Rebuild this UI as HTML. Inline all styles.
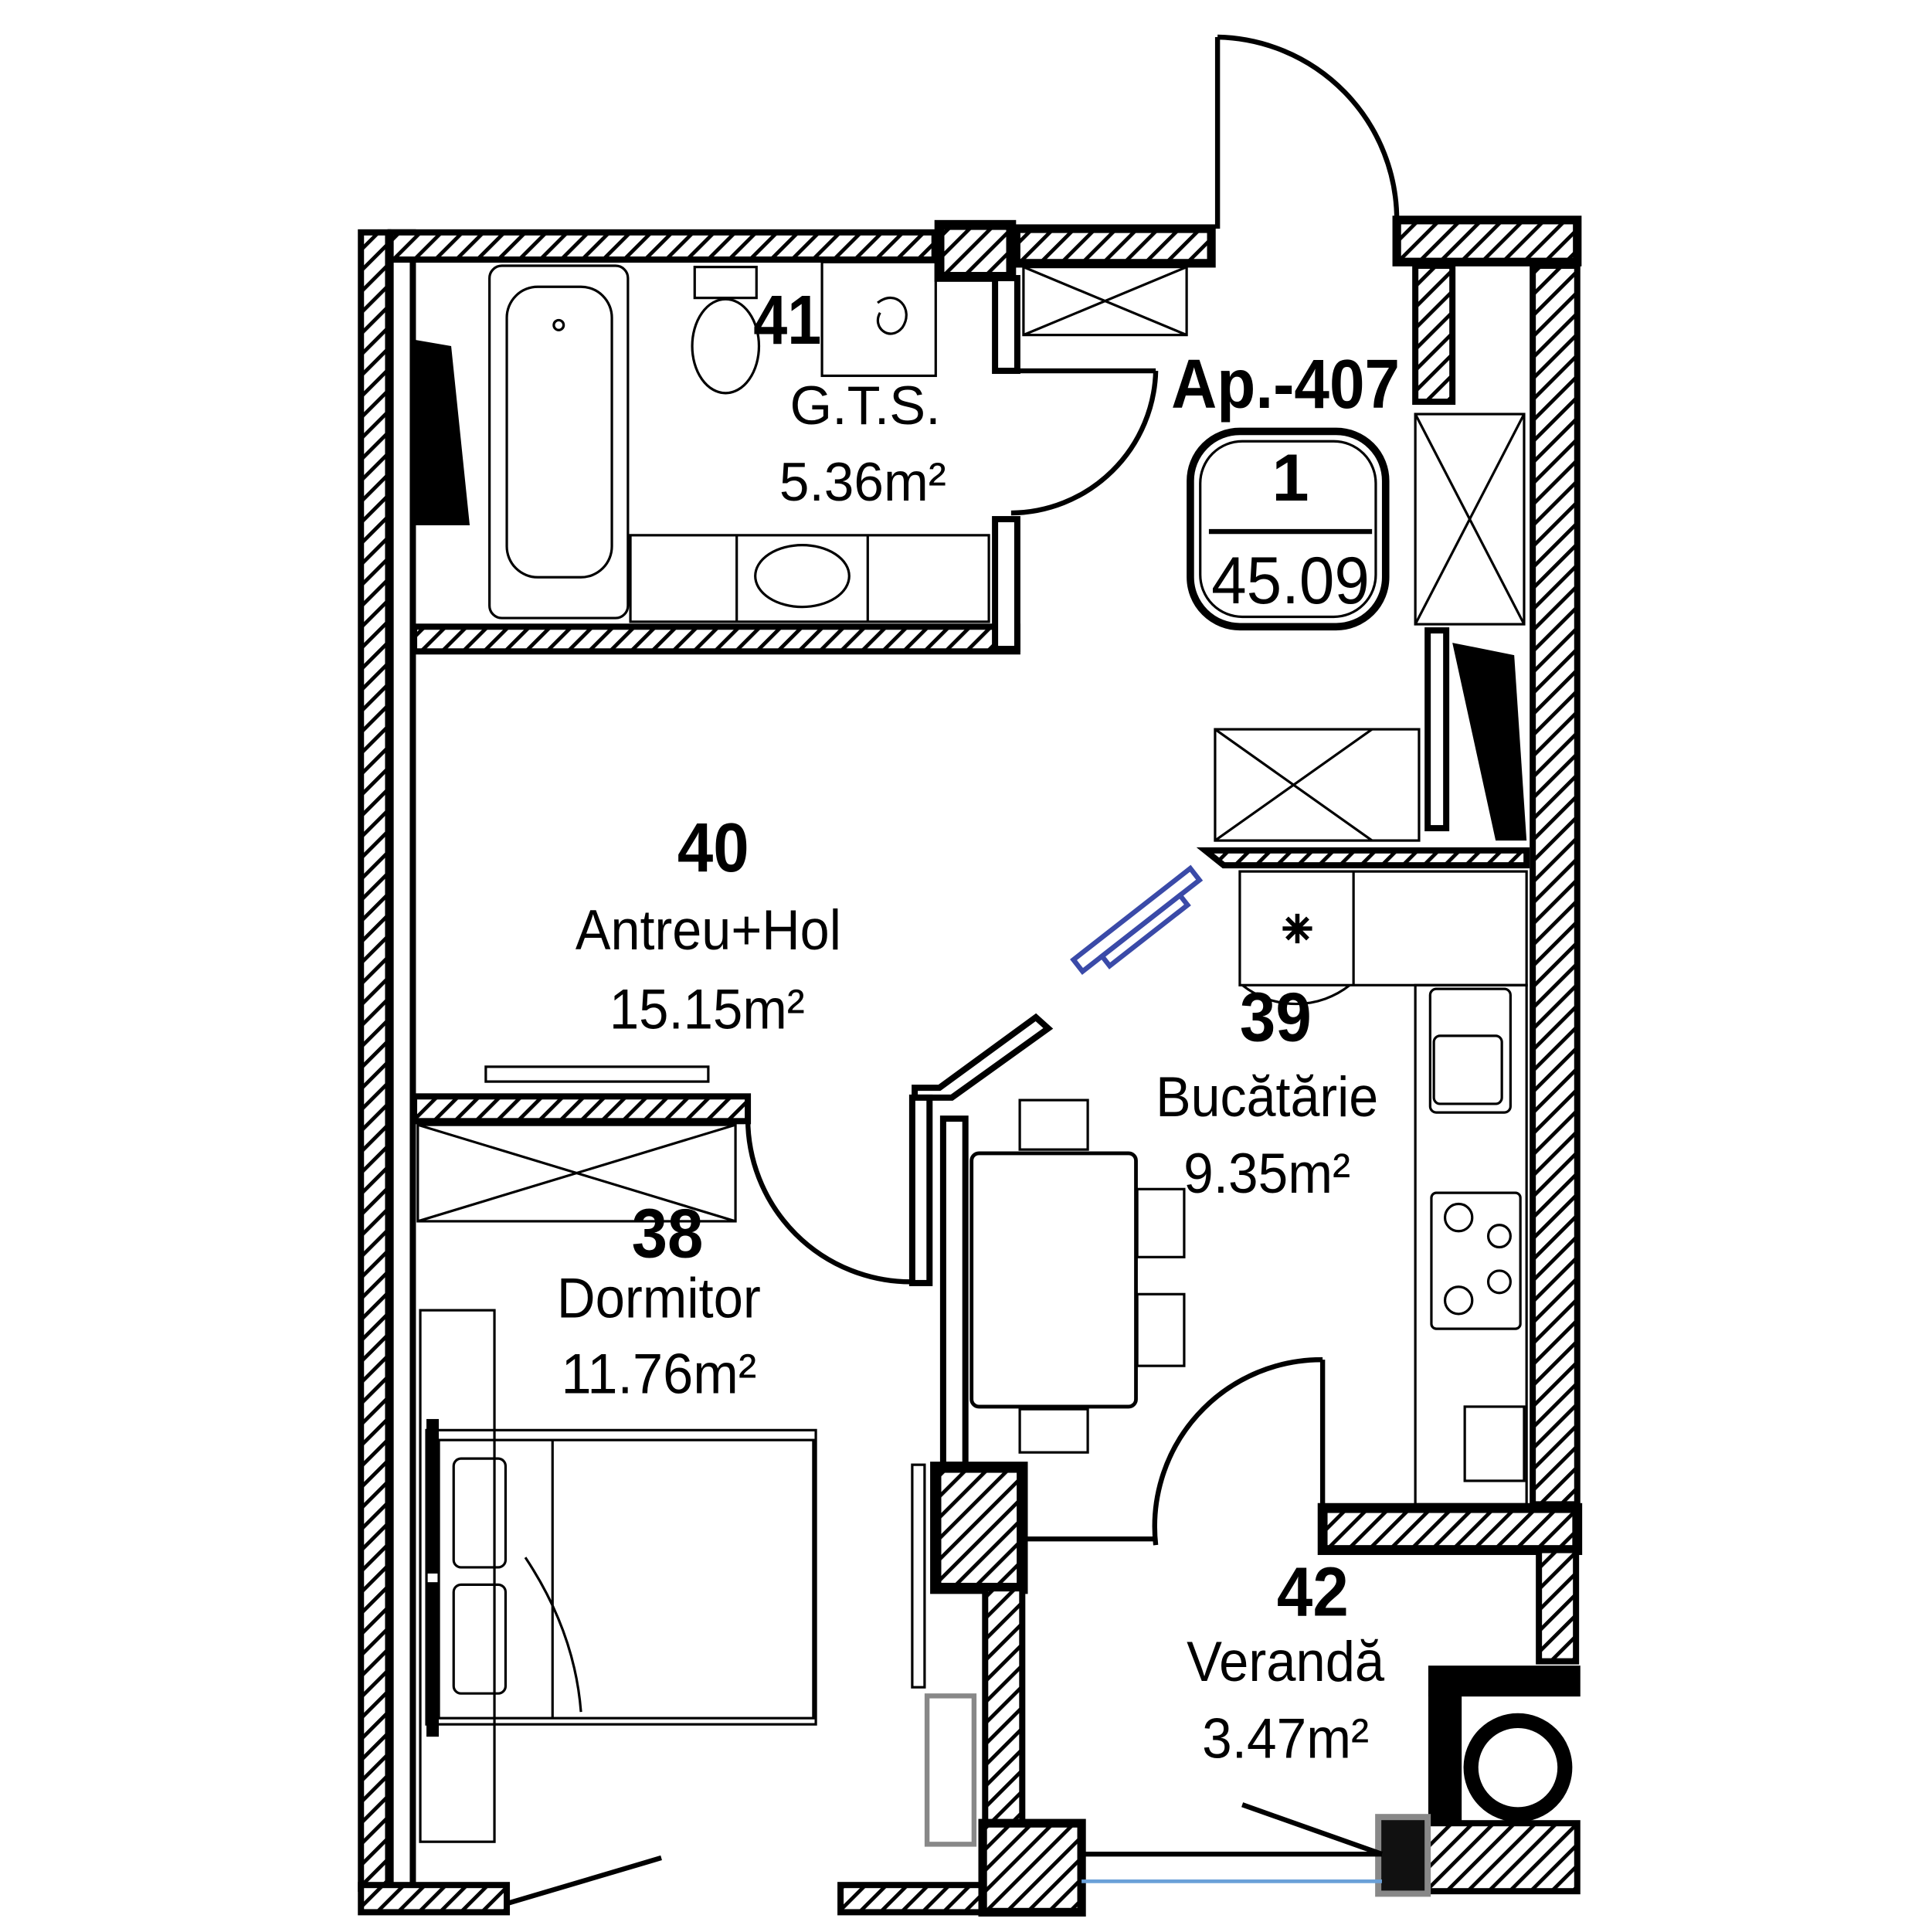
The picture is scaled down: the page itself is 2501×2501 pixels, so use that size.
<!DOCTYPE html>
<html><head><meta charset="utf-8"><style>
html,body{margin:0;padding:0;background:#fff;}
svg{display:block;}
text{font-family:"Liberation Sans",sans-serif;fill:#000;}
</style></head><body>
<svg width="2501" height="2501" viewBox="0 0 1563 1563" xmlns="http://www.w3.org/2000/svg">
<defs>
<pattern id="h" patternUnits="userSpaceOnUse" width="12" height="12" patternTransform="rotate(45)">
<rect width="12" height="12" fill="#fff"/><rect width="3" height="12" fill="#000"/>
</pattern>
</defs>
<rect width="1563" height="1563" fill="#fff"/>
<g stroke="#000" stroke-width="5" fill="url(#h)">
<!-- left wall -->
<rect x="292" y="188" width="22" height="1340"/>
<rect x="316" y="188" width="18" height="1340" fill="#fff"/>
<!-- top wall -->
<rect x="316" y="188" width="440" height="22"/>
<rect x="760" y="182" width="58" height="42" stroke-width="8"/>
<rect x="822" y="185" width="158" height="28" stroke-width="7"/>
<rect x="1130" y="178" width="146" height="34" stroke-width="7"/>
<!-- right wall -->
<rect x="1240" y="215" width="36" height="1002"/>
<rect x="1145" y="215" width="30" height="110"/>
<!-- bathroom -->
<rect x="335" y="507" width="488" height="20"/>
<rect x="805" y="225" width="18" height="75" fill="#fff"/>
<rect x="805" y="420" width="18" height="105" fill="#fff"/>
<!-- kitchen top -->
<polygon points="975,688 1235,688 1235,700 990,700"/>
<rect x="1155" y="510" width="15" height="160" fill="#fff"/>
<!-- bedroom top -->
<rect x="335" y="887" width="270" height="20"/>
<!-- bedroom/kitchen partition -->
<rect x="763" y="905" width="18" height="280" fill="#fff"/>
<polygon points="740,888 770,888 848,832 838,823 760,880 740,880" fill="#fff"/>
<rect x="738" y="888" width="14" height="150" fill="#fff"/>
<rect x="757" y="1187" width="70" height="98" stroke-width="9"/>
<rect x="797" y="1285" width="30" height="215"/>
<!-- veranda top -->
<rect x="1070" y="1220" width="206" height="34" stroke-width="8"/>
<rect x="1245" y="1254" width="30" height="90"/>
<rect x="1158" y="1350" width="118" height="20" fill="#000"/>
<rect x="1158" y="1370" width="22" height="105" fill="#000"/>
<!-- bottom -->
<rect x="292" y="1525" width="118" height="22"/>
<rect x="680" y="1525" width="115" height="22"/>
<rect x="795" y="1475" width="80" height="72" stroke-width="7"/>
<rect x="1150" y="1475" width="126" height="55"/>
<rect x="1115" y="1470" width="40" height="62" fill="#111" stroke="#888"/>
</g>
<!-- door arcs -->
<g fill="none" stroke="#000" stroke-width="4">
<line x1="985" y1="30" x2="985" y2="185"/>
<path d="M985,30 A148,148 0 0 1 1130,178"/>
<line x1="820" y1="300" x2="935" y2="300"/>
<path d="M935,300 A118,118 0 0 1 818,415"/>
<path d="M605,905 A132,132 0 0 0 737,1037"/>
<line x1="1070" y1="1100" x2="1070" y2="1225"/>
<path d="M1070,1100 A135,135 0 0 0 935,1250"/>
<line x1="830" y1="1245" x2="935" y2="1245"/>
<line x1="410" y1="1540" x2="535" y2="1503"/>
<line x1="1005" y1="1460" x2="1118" y2="1500"/>
<line x1="875" y1="1500" x2="1118" y2="1500"/>
</g>
<line x1="875" y1="1522" x2="1118" y2="1522" stroke="#6aa0d8" stroke-width="3"/>
<!-- furniture -->
<g fill="none" stroke="#000" stroke-width="2">
<rect x="396" y="215" width="112" height="285" rx="10"/>
<rect x="410" y="232" width="85" height="235" rx="25"/>
<circle cx="452" cy="263" r="4"/>
<rect x="562" y="216" width="50" height="25"/>
<ellipse cx="587" cy="280" rx="27" ry="38"/>
<rect x="665" y="212" width="92" height="92"/>
<path d="M710,245 c15,-12 30,5 20,20 c-10,12 -25,0 -18,-12"/>
<rect x="510" y="433" width="290" height="70"/>
<line x1="596" y1="433" x2="596" y2="503"/><line x1="702" y1="433" x2="702" y2="503"/>
<ellipse cx="649" cy="466" rx="38" ry="25"/>
<rect x="828" y="216" width="132" height="55"/><line x1="828" y1="216" x2="960" y2="271"/><line x1="960" y1="216" x2="828" y2="271"/>
<rect x="1145" y="335" width="88" height="170"/><line x1="1145" y1="335" x2="1233" y2="505"/><line x1="1233" y1="335" x2="1145" y2="505"/>
<rect x="983" y="590" width="165" height="90"/><line x1="983" y1="590" x2="1110" y2="680"/><line x1="1110" y1="590" x2="983" y2="680"/>
<rect x="1003" y="705" width="232" height="92"/><line x1="1095" y1="705" x2="1095" y2="797"/>
<path d="M1005,797 A70,70 0 0 0 1092,797"/>
<text x="1037" y="762" font-size="30">✳</text>
<rect x="1145" y="797" width="90" height="420"/>
<rect x="1157" y="800" width="65" height="100" rx="5"/>
<rect x="1160" y="838" width="55" height="55" rx="5"/>
<rect x="1158" y="965" width="72" height="110" rx="4"/>
<circle cx="1180" cy="985" r="11"/><circle cx="1213" cy="1000" r="9"/><circle cx="1213" cy="1037" r="9"/><circle cx="1180" cy="1052" r="11"/>
<rect x="1185" y="1138" width="48" height="60"/>
<rect x="338" y="910" width="257" height="78"/><line x1="338" y1="910" x2="595" y2="988"/><line x1="595" y1="910" x2="338" y2="988"/>
<rect x="393" y="863" width="180" height="12"/>
<rect x="786" y="933" width="133" height="205" rx="6" stroke-width="3"/>
<rect x="825" y="890" width="55" height="40"/><rect x="825" y="1140" width="55" height="35"/>
<rect x="920" y="962" width="38" height="55"/><rect x="920" y="1047" width="38" height="58"/>
<rect x="340" y="1060" width="60" height="430"/>
<rect x="345" y="1157" width="315" height="238"/>
<rect x="355" y="1165" width="303" height="225"/>
<rect x="367" y="1180" width="42" height="88" rx="6"/><rect x="367" y="1282" width="42" height="88" rx="6"/>
<line x1="447" y1="1165" x2="447" y2="1390"/>
<path d="M425,1260 q40,60 45,125"/>
<rect x="738" y="1185" width="10" height="180"/>
<rect x="750" y="1372" width="38" height="120" stroke="#888" stroke-width="4"/>
</g>
<rect x="345" y="1148" width="10" height="125" fill="#000"/>
<rect x="345" y="1280" width="10" height="125" fill="#000"/>
<circle cx="1228" cy="1430" r="38" fill="none" stroke="#000" stroke-width="12"/>
<polygon points="336,275 365,280 380,425 336,425" fill="#000"/>
<polygon points="1175,520 1225,530 1235,680 1210,680" fill="#000"/>
<!-- blue element -->
<g stroke="#3a4aa8" stroke-width="4" fill="none" transform="rotate(-38 920 745)">
<rect x="860" y="738" width="120" height="12"/><rect x="880" y="750" width="80" height="10"/>
</g>
<!-- labels -->
<text x="637" y="278" font-size="56" font-weight="bold" text-anchor="middle" textLength="55" lengthAdjust="spacingAndGlyphs">41</text>
<text x="700" y="343" font-size="44" text-anchor="middle" textLength="122" lengthAdjust="spacingAndGlyphs">G.T.S.</text>
<text x="698" y="405" font-size="44" text-anchor="middle" textLength="135" lengthAdjust="spacingAndGlyphs">5.36m²</text>
<text x="1040" y="330" font-size="56" font-weight="bold" text-anchor="middle" textLength="185" lengthAdjust="spacingAndGlyphs">Ap.-407</text>
<rect x="963" y="349" width="158" height="158" rx="40" fill="none" stroke="#000" stroke-width="6"/>
<rect x="971" y="357" width="142" height="142" rx="34" fill="none" stroke="#000" stroke-width="2"/>
<line x1="978" y1="430" x2="1110" y2="430" stroke="#000" stroke-width="4"/>
<text x="1044" y="405" font-size="54" font-weight="bold" text-anchor="middle">1</text>
<text x="1044" y="488" font-size="54" text-anchor="middle" textLength="128" lengthAdjust="spacingAndGlyphs">45.09</text>
<text x="577" y="705" font-size="56" font-weight="bold" text-anchor="middle" textLength="58" lengthAdjust="spacingAndGlyphs">40</text>
<text x="573" y="768" font-size="46" text-anchor="middle" textLength="215" lengthAdjust="spacingAndGlyphs">Antreu+Hol</text>
<text x="572" y="832" font-size="46" text-anchor="middle" textLength="158" lengthAdjust="spacingAndGlyphs">15.15m²</text>
<text x="1032" y="842" font-size="56" font-weight="bold" text-anchor="middle" textLength="58" lengthAdjust="spacingAndGlyphs">39</text>
<text x="1025" y="903" font-size="46" text-anchor="middle" textLength="180" lengthAdjust="spacingAndGlyphs">Bucătărie</text>
<text x="1025" y="965" font-size="46" text-anchor="middle" textLength="135" lengthAdjust="spacingAndGlyphs">9.35m²</text>
<text x="540" y="1017" font-size="56" font-weight="bold" text-anchor="middle" textLength="58" lengthAdjust="spacingAndGlyphs">38</text>
<text x="533" y="1066" font-size="46" text-anchor="middle" textLength="165" lengthAdjust="spacingAndGlyphs">Dormitor</text>
<text x="533" y="1127" font-size="46" text-anchor="middle" textLength="158" lengthAdjust="spacingAndGlyphs">11.76m²</text>
<text x="1062" y="1307" font-size="56" font-weight="bold" text-anchor="middle" textLength="58" lengthAdjust="spacingAndGlyphs">42</text>
<text x="1040" y="1360" font-size="46" text-anchor="middle" textLength="160" lengthAdjust="spacingAndGlyphs">Verandă</text>
<text x="1040" y="1422" font-size="46" text-anchor="middle" textLength="135" lengthAdjust="spacingAndGlyphs">3.47m²</text>
</svg>
</body></html>
